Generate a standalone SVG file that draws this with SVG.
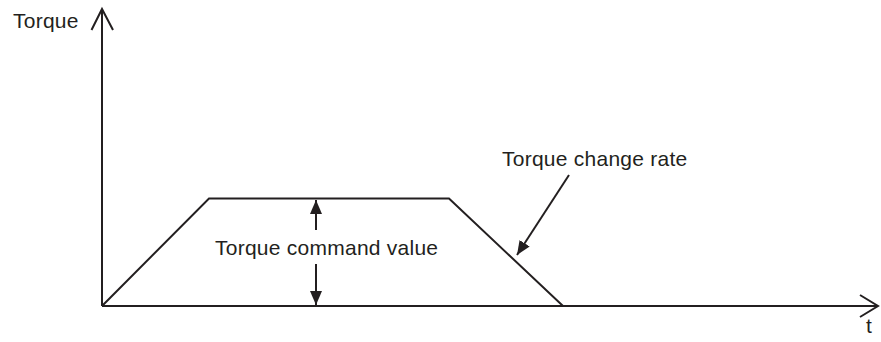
<svg xmlns="http://www.w3.org/2000/svg" width="881" height="342" viewBox="0 0 881 342">
<style>
.ln{fill:none;stroke:#231f20;stroke-width:2;}
.t{font-family:"Liberation Sans",Arial,sans-serif;font-size:21px;letter-spacing:0.25px;fill:#231f20;}
</style>
<defs>
<marker id="ah" markerWidth="14" markerHeight="12" refX="14" refY="6" orient="auto" markerUnits="userSpaceOnUse">
<path d="M0,0 L14,6 L0,12 Z" fill="#231f20"/>
</marker>
</defs>
<rect width="881" height="342" fill="#fff"/>
<g id="axes">
<path class="ln" d="M102,306 L102,9"/>
<path class="ln" d="M91.5,30 L102,9 L113,30"/>
<path class="ln" d="M102,306 L878,306"/>
<path class="ln" d="M860,295 L878,306 L860,317"/>
</g>
<g id="profile">
<path class="ln" d="M102,306 L209,198.5 L449,198.5 L563,306"/>
</g>
<g id="labels">
<text class="t" x="13" y="28">Torque</text>
<text class="t" x="866" y="333">t</text>
<text class="t" x="215" y="255">Torque command value</text>
<text class="t" x="502" y="166">Torque change rate</text>
</g>
<g id="connectors">
<path class="ln" d="M316,230 L316,200" marker-end="url(#ah)"/>
<path class="ln" d="M316,264 L316,305" marker-end="url(#ah)"/>
<path class="ln" d="M569,175 L517,255" marker-end="url(#ah)"/>
</g>
</svg>
